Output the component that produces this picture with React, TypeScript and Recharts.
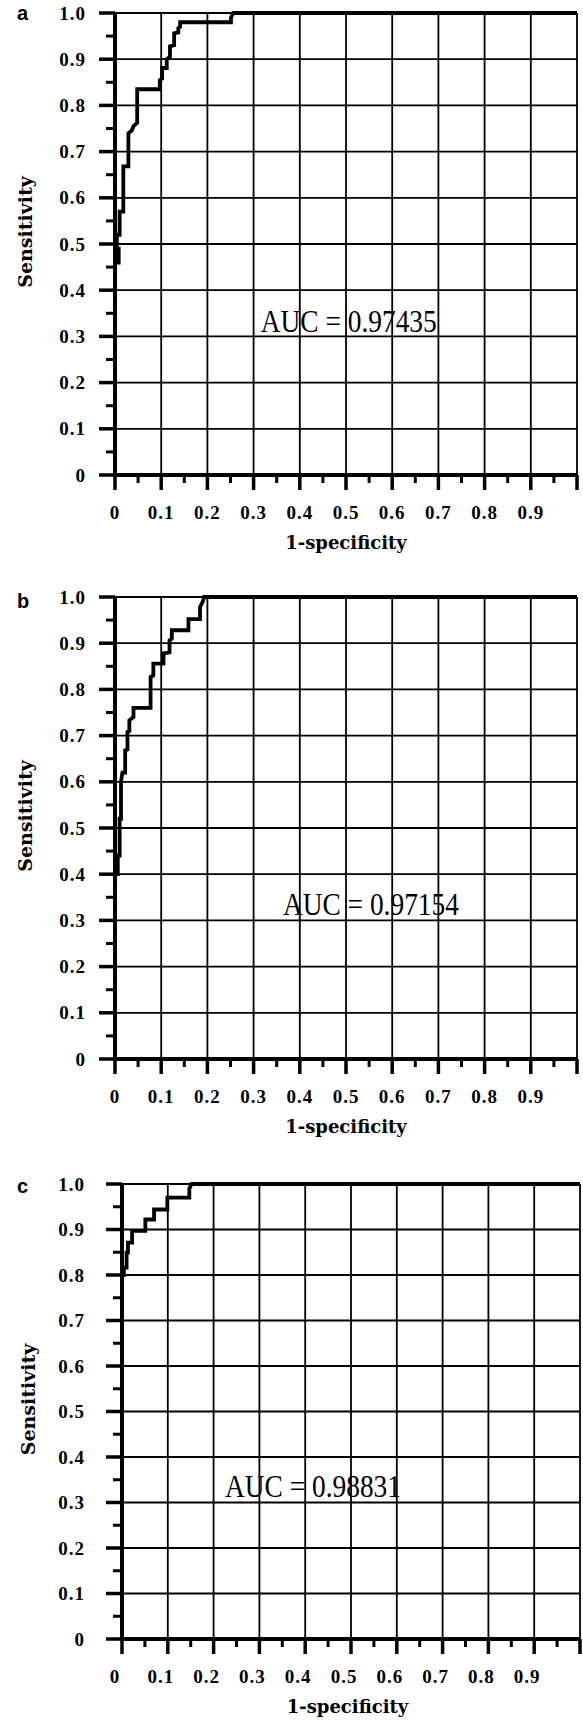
import React from 'react'
import { LineChart, Line, XAxis, YAxis, CartesianGrid, ReferenceDot } from 'recharts'

// ROC curves (1-specificity, sensitivity)
const fprA = [0, 0, 0.008, 0.008, 0.004, 0.004, 0.01, 0.01, 0.018, 0.018, 0.029, 0.029, 0.036, 0.04, 0.048, 0.048, 0.097, 0.097, 0.102, 0.102, 0.112, 0.112, 0.119, 0.119, 0.128, 0.128, 0.137, 0.137, 0.141, 0.141, 0.251, 0.251, 0.256, 1.0]
const tprA = [0, 0.46, 0.46, 0.49, 0.49, 0.52, 0.52, 0.57, 0.57, 0.668, 0.668, 0.74, 0.745, 0.755, 0.762, 0.835, 0.835, 0.855, 0.858, 0.881, 0.881, 0.9, 0.905, 0.928, 0.93, 0.956, 0.958, 0.967, 0.97, 0.98, 0.98, 0.99, 1.0, 1.0]

const fprB = [0, 0, 0.006, 0.006, 0.01, 0.01, 0.013, 0.013, 0.016, 0.022, 0.022, 0.027, 0.027, 0.031, 0.031, 0.04, 0.04, 0.077, 0.077, 0.083, 0.083, 0.105, 0.105, 0.118, 0.118, 0.123, 0.123, 0.159, 0.159, 0.184, 0.184, 0.19, 0.193, 1.0]
const tprB = [0, 0.4, 0.4, 0.44, 0.44, 0.52, 0.52, 0.6, 0.62, 0.62, 0.668, 0.67, 0.708, 0.71, 0.733, 0.74, 0.76, 0.76, 0.827, 0.83, 0.856, 0.856, 0.878, 0.88, 0.906, 0.91, 0.928, 0.928, 0.952, 0.952, 0.978, 0.99, 1.0, 1.0]

const fprC = [0, 0, 0.004, 0.004, 0.01, 0.01, 0.013, 0.013, 0.022, 0.022, 0.051, 0.051, 0.07, 0.07, 0.099, 0.099, 0.147, 0.147, 0.152, 1.0]
const tprC = [0, 0.8, 0.8, 0.816, 0.816, 0.849, 0.849, 0.871, 0.871, 0.897, 0.897, 0.922, 0.922, 0.944, 0.944, 0.97, 0.97, 0.99, 1.0, 1.0]

const aucText = ['AUC = 0.97435', 'AUC = 0.97154', 'AUC = 0.98831']
const panelLetters = ['a', 'b', 'c']

const axisTicks = [0, 0.05, 0.1, 0.15, 0.2, 0.25, 0.3, 0.35, 0.4, 0.45, 0.5, 0.55, 0.6, 0.65, 0.7, 0.75, 0.8, 0.85, 0.9, 0.95, 1.0]
const gridValues = [0.1, 0.2, 0.3, 0.4, 0.5, 0.6, 0.7, 0.8, 0.9, 1.0]

const W = 583
const X_AXIS_H = 80
const SERIF = '"Liberation Serif", "Times New Roman", serif'
const WIDE_SERIF = '"DejaVu Serif", serif'

interface Panel {
    fpr: number[]
    tpr: number[]
    letter: string
    auc: string
    aucAt: [number, number]
    top: number
    plotLeft: number
    plotWidth: number
    plotHeight: number
    letterDy: number
    sensX: number
    yLabelGap: number
    xLabelShift: number
}

const panels: Panel[] = [
    { fpr: fprA, tpr: tprA, letter: panelLetters[0], auc: aucText[0], aucAt: [0.506, 0.334], top: 0, plotLeft: 115, plotWidth: 462, plotHeight: 462, letterDy: 7, sensX: 32, yLabelGap: 30, xLabelShift: 0 },
    { fpr: fprB, tpr: tprB, letter: panelLetters[1], auc: aucText[1], aucAt: [0.554, 0.335], top: 584, plotLeft: 115, plotWidth: 462, plotHeight: 462, letterDy: 11, sensX: 32, yLabelGap: 30, xLabelShift: 0 },
    { fpr: fprC, tpr: tprC, letter: panelLetters[2], auc: aucText[2], aucAt: [0.417, 0.336], top: 1171, plotLeft: 122, plotWidth: 458, plotHeight: 455, letterDy: 9, sensX: 35, yLabelGap: 38, xLabelShift: -7 },
]

const PLOT_TOP = 13

const isMajor = (v: number) => Math.abs(v * 10 - Math.round(v * 10)) < 1e-6
const fmt = (v: number) => (v === 0 ? '0' : v.toFixed(1))

function RocPanel({ p }: { p: Panel }) {
    const data = p.fpr.map((x, i) => ({ fpr: x, tpr: p.tpr[i] }))
    const height = PLOT_TOP + p.plotHeight + X_AXIS_H + 2

    const yTick = (props: any) => {
        const { x, y, payload } = props
        const v = payload.value
        const major = isMajor(v)
        return (
            <g>
                <line x1={x - (major ? 16 : 9)} x2={x} y1={y} y2={y} stroke="#000" strokeWidth={major ? 3.5 : 3} />
                {major && (
                    <text x={x - p.yLabelGap + 1} y={y + 6.5} textAnchor="end" fontFamily={SERIF} fontWeight="bold" fontSize={19} letterSpacing={1} fill="#000">
                        {fmt(v)}
                    </text>
                )}
            </g>
        )
    }

    const xTick = (props: any) => {
        const { x, y, payload } = props
        const v = payload.value
        const major = isMajor(v)
        return (
            <g>
                <line x1={x} x2={x} y1={y} y2={y + (major ? 15 : 8)} stroke="#000" strokeWidth={major ? 3.5 : 3} />
                {major && v < 1 && (
                    <text x={x + p.xLabelShift} y={y + 44} textAnchor="middle" fontFamily={SERIF} fontWeight="bold" fontSize={19} letterSpacing={1} fill="#000">
                        {fmt(v)}
                    </text>
                )}
            </g>
        )
    }

    const yTitle = (props: any) => {
        const vb = props.viewBox
        const cy = vb.y + vb.height / 2 - 12
        return (
            <g>
                <text x={17} y={vb.y + p.letterDy} fontFamily='"Liberation Sans", Arial, sans-serif' fontWeight="bold" fontSize={20} fill="#000">
                    {p.letter}
                </text>
                <text x={p.sensX} y={cy} transform={`rotate(-90 ${p.sensX} ${cy})`} textAnchor="middle" fontFamily={WIDE_SERIF} fontWeight="bold" fontSize={19} fill="#000">
                    Sensitivity
                </text>
            </g>
        )
    }

    const xTitle = (props: any) => {
        const vb = props.viewBox
        return (
            <text x={vb.x + vb.width / 2 + p.xLabelShift * 0.5} y={vb.y + 74} textAnchor="middle" fontFamily={WIDE_SERIF} fontWeight="bold" fontSize={18} fill="#000">
                1-specificity
            </text>
        )
    }

    const aucLabel = (props: any) => {
        const vb = props.viewBox
        const cx = vb.x + vb.width / 2
        const cy = vb.y + vb.height / 2
        return (
            <text x={cx - 88} y={cy + 11} textLength={176} lengthAdjust="spacingAndGlyphs" fontFamily={SERIF} fontSize={31} fill="#000">
                {p.auc}
            </text>
        )
    }

    return (
        <div style={{ position: 'absolute', left: 0, top: p.top }}>
            <LineChart
                width={W}
                height={height}
                data={data}
                margin={{ top: PLOT_TOP, right: W - p.plotLeft - p.plotWidth, bottom: 2, left: 0 }}
            >
                <CartesianGrid
                    horizontalValues={gridValues}
                    verticalValues={gridValues}
                    stroke="#000"
                    strokeWidth={1.8}
                    strokeDasharray=""
                />
                <XAxis
                    type="number"
                    dataKey="fpr"
                    domain={[0, 1]}
                    ticks={axisTicks}
                    interval={0}
                    tickSize={0}
                    tickMargin={0}
                    tickLine={false}
                    tick={xTick}
                    height={X_AXIS_H}
                    axisLine={{ stroke: '#000', strokeWidth: 4 }}
                    label={{ content: xTitle }}
                />
                <YAxis
                    type="number"
                    domain={[0, 1]}
                    ticks={axisTicks}
                    interval={0}
                    tickSize={0}
                    tickMargin={0}
                    tickLine={false}
                    tick={yTick}
                    width={p.plotLeft}
                    axisLine={{ stroke: '#000', strokeWidth: 4 }}
                    label={{ content: yTitle }}
                />
                <ReferenceDot x={p.aucAt[0]} y={p.aucAt[1]} r={1} fill="none" stroke="none" label={{ content: aucLabel }} />
                <Line
                    type="linear"
                    dataKey="tpr"
                    stroke="#000"
                    strokeWidth={3.8}
                    dot={false}
                    activeDot={false}
                    isAnimationActive={false}
                />
            </LineChart>
        </div>
    )
}

export default function App() {
    return (
        <div style={{ position: 'absolute', left: 0, top: 0, width: W, height: 1720, background: '#fff', overflow: 'hidden' }}>
            {panels.map((p) => (
                <RocPanel key={p.letter} p={p} />
            ))}
        </div>
    )
}
